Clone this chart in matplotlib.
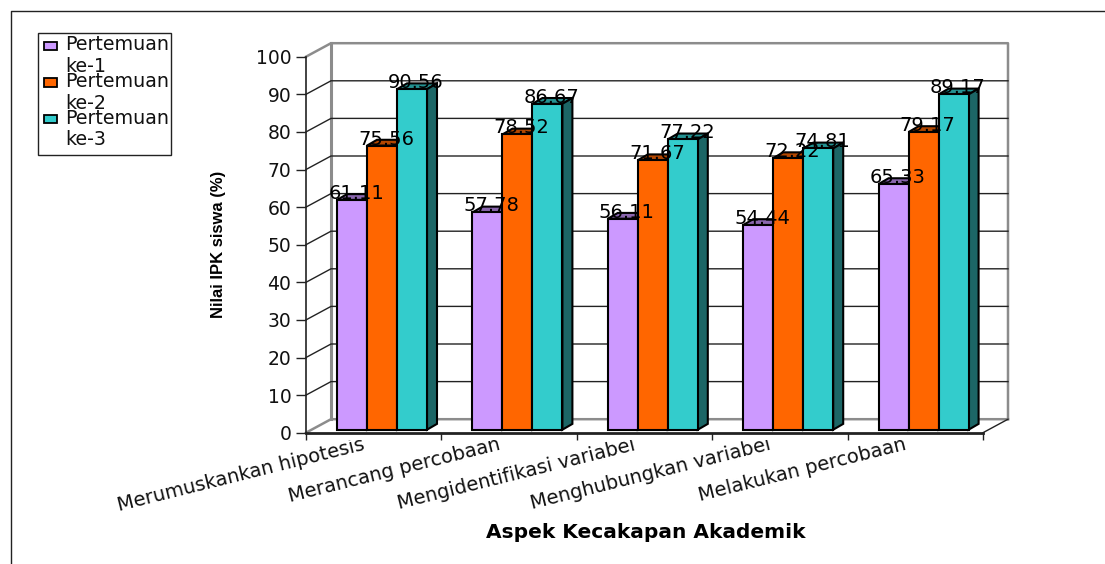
import matplotlib
matplotlib.use("Agg")
import matplotlib.pyplot as plt
from matplotlib.lines import Line2D
from matplotlib.patches import Rectangle
from matplotlib.transforms import Bbox

# data
categories = ["Merumuskankan hipotesis", "Merancang percobaan", "Mengidentifikasi variabel",
              "Menghubungkan variabel", "Melakukan percobaan"]
series_names = ["Pertemuan\nke-1", "Pertemuan\nke-2", "Pertemuan\nke-3"]
pertemuan_1 = [61.11, 57.78, 56.11, 54.44, 65.33]
pertemuan_2 = [75.56, 78.52, 71.67, 72.22, 79.17]
pertemuan_3 = [90.56, 86.67, 77.22, 74.81, 89.17]
y_ticks = [0, 10, 20, 30, 40, 50, 60, 70, 80, 90, 100]

front_colors = ["#CC99FF", "#FF6600", "#33CCCC"]
top_colors = ["#8A66AE", "#B34700", "#249292"]
side_colors = ["#664D80", "#803300", "#1C6666"]

W, H = 1105, 564
fig = plt.figure(figsize=(W / 100, H / 100), dpi=100)
ax = fig.add_axes([306 / W, 1 - 432.7 / H, 677 / W, 376 / H])
ax.set_xlim(0, 5)
ax.set_ylim(0, 100)

# pixel sizes expressed in axis units
ux = 5 / 677
uy = 100 / 376
wall_dx, wall_dy = 25 * ux, 13.5 * uy
bar_dx, bar_dy = 10 * ux, 5.8 * uy
bar_w = 30 * ux
bar_start = 31 * ux
bar_base = 0.8

# back wall and floor
gray = "#8C8C8C"
ax.plot([0, wall_dx, 5 + wall_dx, 5 + wall_dx], [100, 100 + wall_dy, 100 + wall_dy, wall_dy],
        color=gray, lw=1.8, clip_on=False, zorder=1)
ax.plot([wall_dx, wall_dx], [wall_dy, 100 + wall_dy], color=gray, lw=2.2, clip_on=False, zorder=1)
ax.plot([0, wall_dx, 5 + wall_dx], [0, wall_dy, wall_dy], color=gray, lw=1.8, clip_on=False, zorder=1)
ax.plot([5, 5 + wall_dx], [0, wall_dy], color="#222222", lw=1, clip_on=False, zorder=1)

# gridlines on the wall
for v in y_ticks[1:-1]:
    ax.plot([0, wall_dx, 5 + wall_dx], [v, v + wall_dy, v + wall_dy], color="#222222", lw=1,
            clip_on=False, zorder=1.5)

# bars with a fake 3d top and side
z = 2
all_series = [pertemuan_1, pertemuan_2, pertemuan_3]
for s, values in enumerate(all_series):
    for i, v in enumerate(values):
        x0 = i + bar_start + s * bar_w
        x1 = x0 + bar_w
        top = bar_base + v
        ax.fill([x0, x0 + bar_dx, x1 + bar_dx, x1], [top, top + bar_dy, top + bar_dy, top],
                facecolor=top_colors[s], edgecolor="black", lw=1.5, clip_on=False, zorder=z)
        ax.fill([x1, x1 + bar_dx, x1 + bar_dx, x1],
                [bar_base, bar_base + bar_dy, top + bar_dy, top],
                facecolor=side_colors[s], edgecolor="black", lw=1.5, clip_on=False, zorder=z)
        ax.bar(x0, v, bottom=bar_base, width=bar_w, align="edge", facecolor=front_colors[s],
               edgecolor="black", lw=1.5, clip_on=False, zorder=z + 0.5)
    z += 1

# value labels
for s, values in enumerate(all_series):
    for i, v in enumerate(values):
        xc = i + bar_start + (s + 0.5) * bar_w + 4 * ux
        ax.text(xc, bar_base + v + 6.5 * uy, f"{v:.2f}", ha="center", va="center",
                fontsize=14, color="black", zorder=10, clip_on=False)

# axes
for side in ["top", "right"]:
    ax.spines[side].set_visible(False)
ax.patch.set_alpha(0)
ax.spines["left"].set_color("#222222")
ax.spines["left"].set_linewidth(1.2)
ax.spines["bottom"].set_color("#222222")
ax.spines["bottom"].set_linewidth(2)
ax.set_yticks(y_ticks)
ax.set_xticks(range(6))
ax.set_xticklabels([])
ax.tick_params(axis="y", length=7, width=1, labelsize=13.5, pad=3.5, color="#222222", labelcolor="#111111")
ax.tick_params(axis="x", length=5, width=1, color="#222222")

# rotated category labels, cut off just below the axis ticks
clip = Bbox([[0, 0], [W, H - 440]])
for i, name in enumerate(categories):
    t = ax.text(i + 0.5 - 8 * ux, -17 * uy, name, rotation=14, rotation_mode="anchor",
                ha="right", va="baseline", fontsize=14, color="#111111")
    t.set_clip_box(clip)
    t.set_clip_on(True)

fig.text(645.5 / W, 1 - 533 / H, "Aspek Kecakapan Akademik", ha="center", va="center",
         fontsize=14.5, fontweight="bold", color="black")
fig.text(219 / W, 1 - 244 / H, "Nilai IPK siswa (%)", ha="center", va="center", rotation=90,
         fontsize=12, fontweight="bold", family="Liberation Sans", color="black")

# legend box
fig.add_artist(Rectangle((37.5 / W, 1 - 155 / H), 133 / W, 122 / H, transform=fig.transFigure,
                         facecolor="white", edgecolor="#222222", lw=1))
for k, name in enumerate(series_names):
    yc = 46 + k * 36.5
    fig.add_artist(Rectangle((44 / W, 1 - (yc + 4) / H), 13 / W, 8 / H, transform=fig.transFigure,
                             facecolor=front_colors[k], edgecolor="black", lw=1.3))
    first, second = name.split("\n")
    fig.text(65.5 / W, 1 - (yc - 1) / H, first, ha="left", va="center", fontsize=13.7, color="#111111")
    fig.text(65.5 / W, 1 - (yc + 20.5) / H, second, ha="left", va="center", fontsize=13.7, color="#111111")

# page frame, top and left only
fig.add_artist(Line2D([11 / W, 11 / W, 1], [0, 1 - 10.5 / H, 1 - 10.5 / H], transform=fig.transFigure,
                      color="#222222", lw=1))

fig.savefig("out.png", dpi=100)
